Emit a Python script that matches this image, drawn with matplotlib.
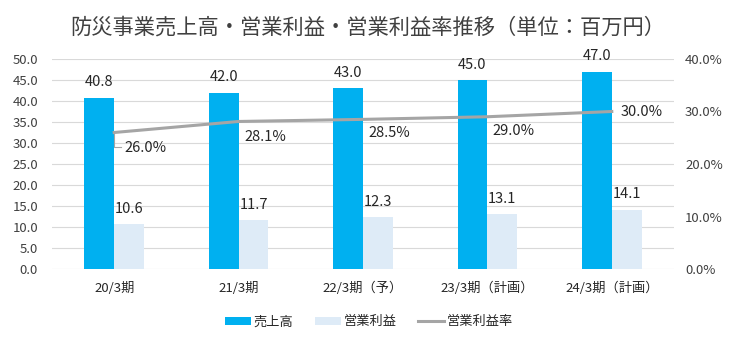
import matplotlib
matplotlib.use("Agg")
import matplotlib.pyplot as plt
import numpy as np
from matplotlib.ticker import FuncFormatter

plt.rcParams['font.family'] = ['Noto Sans CJK JP', 'DejaVu Sans']

categories = ["20/3期", "21/3期", "22/3期（予）", "23/3期（計画）", "24/3期（計画）"]
sales = [40.8, 42.0, 43.0, 45.0, 47.0]
op_profit = [10.6, 11.7, 12.3, 13.1, 14.1]
op_margin = [26.0, 28.1, 28.5, 29.0, 30.0]

# per-label placement of the margin labels (pixels right / down of the point)
margin_label_dx = [31, 27, 26, 26, 30]
margin_label_dy = [15, 16, 14, 14, 0]

blue = "#00B0F0"
light = "#DEEBF7"
gray = "#A5A5A5"
txt = "#262626"
axis_txt = "#404040"

W, H = 735, 344
fig = plt.figure(figsize=(W / 100, H / 100), dpi=100)
ax = fig.add_axes([52 / W, 1 - 269 / H, 622 / W, 210 / H])
ax2 = ax.twinx()

x = np.arange(len(categories))
w = 0.24
b1 = ax.bar(x - w / 2, sales, w, color=blue, zorder=3, label="売上高")
b2 = ax.bar(x + w / 2, op_profit, w, color=light, zorder=3, label="営業利益")

for xi, v in zip(x, sales):
    ax.annotate(f"{v:.1f}", (xi - w / 2, v), xytext=(0, 6), textcoords="offset points",
                ha="center", va="bottom", fontsize=10.5, color=txt)
for xi, v in zip(x, op_profit):
    ax.annotate(f"{v:.1f}", (xi + w / 2, v), xytext=(0, 6), textcoords="offset points",
                ha="center", va="bottom", fontsize=10.5, color=txt)

ax.set_xlim(-0.5, len(categories) - 0.5)
ax.set_ylim(0, 50)
ax.set_yticks(np.arange(0, 50.1, 5))
ax.yaxis.set_major_formatter(FuncFormatter(lambda v, p: f"{v:.1f}"))
ax.grid(axis="y", color="#D9D9D9", linewidth=0.8, zorder=0)
ax.set_axisbelow(True)
ax.set_xticks(x)
ax.set_xticklabels(categories)

ax2.set_ylim(0, 40)
ax2.set_yticks(np.arange(0, 40.1, 10))
ax2.yaxis.set_major_formatter(FuncFormatter(lambda v, p: f"{v:.1f}%"))

line, = ax2.plot(x, op_margin, color=gray, linewidth=2.2, zorder=4, label="営業利益率")
px = 72 / 100  # points per pixel
for xi, v, dx, dy in zip(x, op_margin, margin_label_dx, margin_label_dy):
    ax2.annotate(f"{v:.1f}%", (xi, v), xytext=(dx * px, -dy * px), textcoords="offset points",
                 ha="center", va="center", fontsize=10.5, color=txt, zorder=5)

# small leader line for the first margin label
p0 = ax2.transData.transform((x[0], op_margin[0]))
pts = np.array([p0, p0 + np.array([0, -14]), p0 + np.array([7, -14])])
pts = ax2.transData.inverted().transform(pts)
ax2.plot(pts[:, 0], pts[:, 1], color=gray, linewidth=0.8, zorder=3)

for a in (ax, ax2):
    for s in a.spines.values():
        s.set_visible(False)
    a.tick_params(length=0, labelsize=9.5, colors=axis_txt)
ax.tick_params(axis="y", pad=10)
ax2.tick_params(axis="y", pad=8)
ax.tick_params(axis="x", pad=9, labelsize=9.5)
for lbl in ax.get_xticklabels():
    lbl.set_color(txt)

fig.text(0.5, 1 - 28 / H, "防災事業売上高・営業利益・営業利益率推移（単位：百万円）",
         ha="center", va="center", fontsize=15.3, color="#404040")

fig.legend(handles=[b1, b2, line], labels=["売上高", "営業利益", "営業利益率"],
           loc="center", bbox_to_anchor=(369 / W, 1 - 322 / H), ncol=3, frameon=False,
           fontsize=9.5, handlelength=2.0, handleheight=0.55, columnspacing=1.6,
           handletextpad=0.2, labelcolor=txt)

fig.savefig("out.png", dpi=100)
